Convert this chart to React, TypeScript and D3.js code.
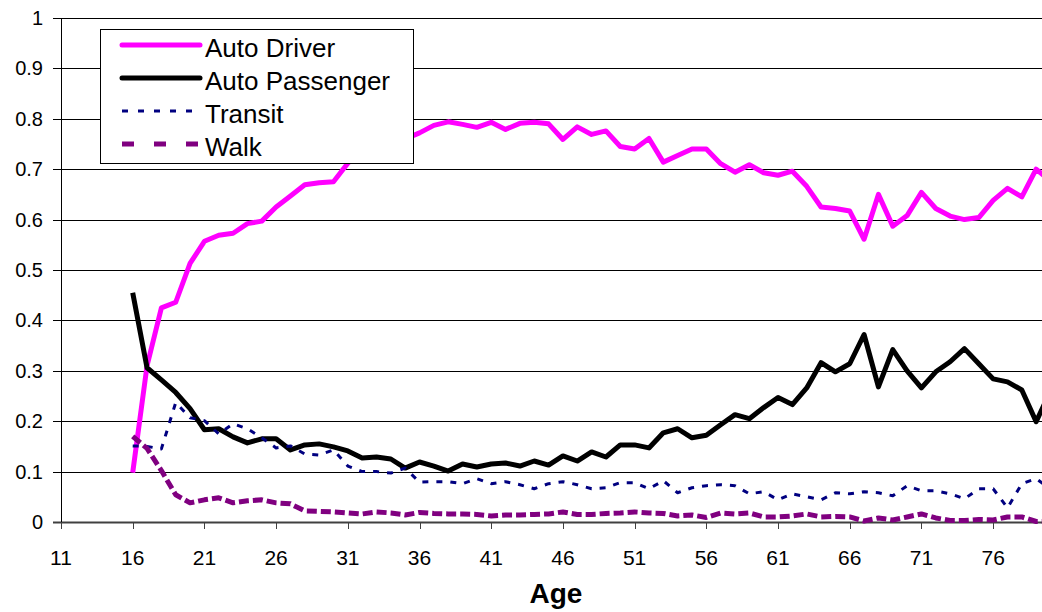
import React from "react"
import * as d3 from "d3"

const width = 1042
const height = 612

// ages 16..80
const ages = [
  16, 17, 18, 19, 20, 21, 22, 23, 24, 25, 26, 27, 28, 29, 30, 31, 32, 33, 34, 35,
  36, 37, 38, 39, 40, 41, 42, 43, 44, 45, 46, 47, 48, 49, 50, 51, 52, 53, 54, 55,
  56, 57, 58, 59, 60, 61, 62, 63, 64, 65, 66, 67, 68, 69, 70, 71, 72, 73, 74, 75,
  76, 77, 78, 79, 80,
]

const autoDriver = [
  0.098, 0.31, 0.425, 0.436, 0.513, 0.557, 0.569, 0.573, 0.592, 0.597, 0.625, 0.647, 0.669, 0.673, 0.675, 0.712, 0.735, 0.745, 0.755, 0.76,
  0.772, 0.787, 0.794, 0.789, 0.783, 0.793, 0.779, 0.791, 0.793, 0.79, 0.759, 0.784, 0.769, 0.776, 0.745, 0.74, 0.761, 0.714, 0.727, 0.74,
  0.74, 0.711, 0.694, 0.709, 0.693, 0.688, 0.696, 0.666, 0.625, 0.622, 0.617, 0.561, 0.65, 0.587, 0.608, 0.654, 0.622, 0.607, 0.6, 0.604,
  0.638, 0.662, 0.645, 0.7, 0.677,
]

const autoPassenger = [
  0.455, 0.306, 0.282, 0.257, 0.225, 0.183, 0.185, 0.169, 0.157, 0.165, 0.165, 0.143, 0.153, 0.155, 0.149, 0.141, 0.127, 0.129, 0.125, 0.107,
  0.119, 0.111, 0.101, 0.115, 0.109, 0.115, 0.117, 0.111, 0.121, 0.113, 0.131, 0.121, 0.139, 0.129, 0.153, 0.153, 0.147, 0.177, 0.185, 0.167,
  0.172, 0.193, 0.213, 0.205, 0.227, 0.247, 0.233, 0.266, 0.316, 0.298, 0.314, 0.372, 0.268, 0.342, 0.3, 0.266, 0.298, 0.318, 0.344, 0.314,
  0.284, 0.278, 0.262, 0.199, 0.26,
]

const transit = [
  0.151, 0.15, 0.145, 0.237, 0.207, 0.201, 0.175, 0.195, 0.185, 0.167, 0.147, 0.151, 0.135, 0.133, 0.143, 0.111, 0.1, 0.1, 0.097, 0.107,
  0.079, 0.08, 0.08, 0.076, 0.086, 0.076, 0.08, 0.074, 0.066, 0.076, 0.08, 0.074, 0.066, 0.068, 0.078, 0.078, 0.066, 0.082, 0.058, 0.068,
  0.072, 0.074, 0.072, 0.056, 0.06, 0.044, 0.056, 0.05, 0.044, 0.058, 0.056, 0.06, 0.058, 0.052, 0.072, 0.062, 0.062, 0.056, 0.046, 0.066,
  0.066, 0.028, 0.076, 0.086, 0.065,
]

const walk = [
  0.17, 0.146, 0.102, 0.054, 0.038, 0.044, 0.048, 0.038, 0.042, 0.044, 0.038, 0.036, 0.022, 0.021, 0.02, 0.018, 0.016, 0.02, 0.018, 0.014,
  0.019, 0.017, 0.016, 0.016, 0.015, 0.012, 0.014, 0.014, 0.015, 0.016, 0.02, 0.015, 0.015, 0.017, 0.018, 0.02, 0.018, 0.017, 0.012, 0.014,
  0.009, 0.018, 0.016, 0.018, 0.01, 0.01, 0.012, 0.016, 0.01, 0.011, 0.01, 0.002, 0.008, 0.004, 0.01, 0.016, 0.008, 0.003, 0.003, 0.005,
  0.004, 0.01, 0.01, 0.001, 0.001,
]

const xTicks = [11, 16, 21, 26, 31, 36, 41, 46, 51, 56, 61, 66, 71, 76]
const yTicks = [0, 0.1, 0.2, 0.3, 0.4, 0.5, 0.6, 0.7, 0.8, 0.9, 1]

const series = [
  { name: "Auto Driver", values: autoDriver, color: "#FF00FF", w: 5, dash: null, legendDash: null },
  { name: "Auto Passenger", values: autoPassenger, color: "#000000", w: 5, dash: null, legendDash: null },
  { name: "Transit", values: transit, color: "#000080", w: 3, dash: "6,8", legendDash: "6,10" },
  { name: "Walk", values: walk, color: "#800080", w: 5, dash: "10,4", legendDash: "12,20" },
]

const font = "'Liberation Sans', Arial, sans-serif"

const App = () => {
  const x = d3.scaleLinear().domain([11, 80]).range([61, 1050.5])
  const y = d3.scaleLinear().domain([0, 1]).range([522, 18])

  const line = d3
    .line<number>()
    .x((d, i) => x(ages[i]))
    .y(d => y(d))

  return (
    <svg
      width={width}
      height={height}
      style={{ position: "absolute", left: 0, top: 0, background: "#fff" }}
      fontFamily={font}
    >
      {/* gridlines */}
      {yTicks.map(t => (
        <line
          key={"g" + t}
          x1={53}
          x2={width}
          y1={Math.round(y(t)) + 0.5}
          y2={Math.round(y(t)) + 0.5}
          stroke={t === 0 ? "#404040" : "#000"}
          strokeWidth={t === 0 ? 2 : 1}
        />
      ))}
      {yTicks.map(t => (
        <text key={"yl" + t} x={43} y={y(t) + 7} fontSize={20} textAnchor="end">
          {t}
        </text>
      ))}

      {/* y axis */}
      <line x1={61.5} x2={61.5} y1={18} y2={529} stroke="#000" strokeWidth={1} />

      {/* x ticks */}
      {xTicks.map(t => (
        <g key={"xt" + t}>
          <line x1={Math.round(x(t)) + 0.5} x2={Math.round(x(t)) + 0.5} y1={522} y2={529} stroke="#404040" strokeWidth={1} />
          <text x={x(t)} y={565} fontSize={21} textAnchor="middle">
            {t}
          </text>
        </g>
      ))}

      <text x={556} y={603} fontSize={28} fontWeight="bold" textAnchor="middle">
        Age
      </text>

      {/* series */}
      {series.map(s => (
        <path
          key={s.name}
          d={line(s.values) || ""}
          fill="none"
          stroke={s.color}
          strokeWidth={s.w}
          strokeDasharray={s.dash || undefined}
          strokeLinejoin="round"
        />
      ))}

      {/* legend */}
      <g>
        <rect x={100.5} y={29.5} width={313} height={134} fill="#fff" stroke="#000" strokeWidth={1} />
        {series.map((s, i) => (
          <g key={"lg" + s.name}>
            <line
              x1={122}
              x2={200}
              y1={45 + i * 33}
              y2={45 + i * 33}
              stroke={s.color}
              strokeWidth={s.w}
              strokeDasharray={s.legendDash || undefined}
              strokeLinecap={s.legendDash ? "butt" : "round"}
            />
            <text x={205} y={57 + i * 33} fontSize={26}>
              {s.name}
            </text>
          </g>
        ))}
      </g>
    </svg>
  )
}

export default App
